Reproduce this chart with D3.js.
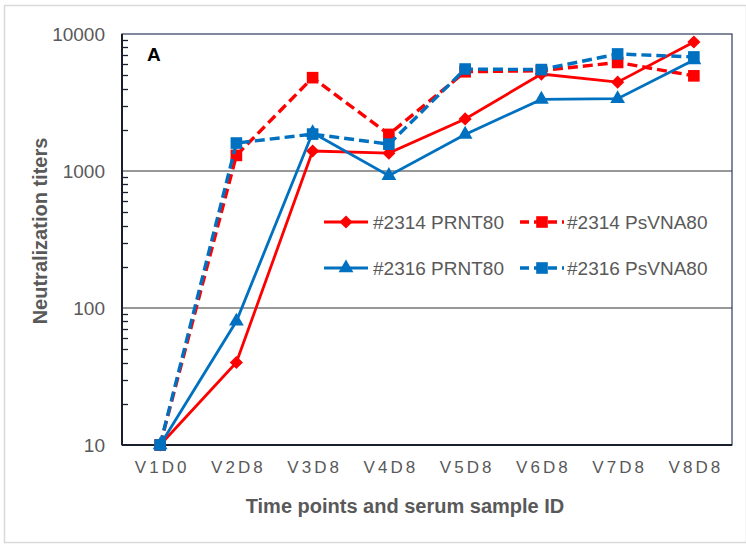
<!DOCTYPE html>
<html>
<head>
<meta charset="utf-8">
<script src="https://cdn.jsdelivr.net/npm/d3@7"></script>
<style>
  body { margin: 0; background: #fff; }
  text { font-family: "Liberation Sans", Arial, sans-serif; }
</style>
</head>
<body>
<svg id="chart" width="746" height="544"></svg>
<script>
"use strict";

// sample time points
const categories = ["V1D0", "V2D8", "V3D8", "V4D8", "V5D8", "V6D8", "V7D8", "V8D8"];

// titers
const prnt2314 = [10, 40, 1400, 1350, 2400, 5100, 4450, 8750];
const psvna2314 = [10, 1300, 4800, 1850, 5300, 5400, 6200, 4950];
const prnt2316 = [10, 80, 1900, 925, 1850, 3330, 3370, 6450];
const psvna2316 = [10, 1600, 1860, 1570, 5550, 5500, 7150, 6800];

const yTicks = [10, 100, 1000, 10000];
const seriesNames = ["#2314 PRNT80", "#2314 PsVNA80", "#2316 PRNT80", "#2316 PsVNA80"];

const RED = "#ff0000",
      BLUE = "#0070c0",
      TEXT = "#595959";

const series = [
    {name: seriesNames[0], values: prnt2314, color: RED, dash: null, marker: d3.symbolDiamond2, size: 110},
    {name: seriesNames[1], values: psvna2314, color: RED, dash: "10,5", marker: d3.symbolSquare, size: 135},
    {name: seriesNames[2], values: prnt2316, color: BLUE, dash: null, marker: d3.symbolTriangle, size: 95},
    {name: seriesNames[3], values: psvna2316, color: BLUE, dash: "10,5", marker: d3.symbolSquare, size: 135}
];

const svg = d3.select("#chart");
const plot = {left: 122, top: 34, right: 732, bottom: 445};

// outer frame
svg.append("rect")
    .attr("x", 4.5).attr("y", 5.5)
    .attr("width", 742).attr("height", 537)
    .attr("fill", "#fff")
    .attr("stroke", "#d9d9d9")
    .attr("stroke-width", 1.5);

const x = d3.scalePoint()
    .domain(categories)
    .range([plot.left, plot.right])
    .padding(0.5);

const y = d3.scaleLog()
    .domain([10, 10000])
    .range([plot.bottom, plot.top]);

// gridlines at the inner decades
svg.append("g")
    .selectAll("line")
    .data(yTicks.slice(1, -1))
    .join("line")
    .attr("x1", plot.left).attr("x2", plot.right)
    .attr("y1", d => y(d)).attr("y2", d => y(d))
    .attr("stroke", "#333")
    .attr("stroke-width", 1.2);

// plot border
svg.append("rect")
    .attr("x", plot.left).attr("y", plot.top)
    .attr("width", plot.right - plot.left)
    .attr("height", plot.bottom - plot.top)
    .attr("fill", "none")
    .attr("stroke", "#2f3b5c")
    .attr("stroke-width", 1.2);

// left axis with minor ticks pointing inward
const minorTicks = y.ticks().filter(d => yTicks.indexOf(d) < 0);
svg.append("g")
    .selectAll("line")
    .data(minorTicks)
    .join("line")
    .attr("x1", plot.left).attr("x2", plot.left + 6)
    .attr("y1", d => Math.round(y(d)) + 0.5).attr("y2", d => Math.round(y(d)) + 0.5)
    .attr("stroke", "#1a1f2e")
    .attr("stroke-width", 1.3);

svg.append("line")
    .attr("x1", plot.left).attr("x2", plot.left)
    .attr("y1", plot.top).attr("y2", plot.bottom)
    .attr("stroke", "#1a1f2e")
    .attr("stroke-width", 2);
svg.append("line")
    .attr("x1", plot.left).attr("x2", plot.right)
    .attr("y1", plot.bottom).attr("y2", plot.bottom)
    .attr("stroke", "#1a1f2e")
    .attr("stroke-width", 2);

const yAxis = d3.axisLeft(y)
    .tickValues(yTicks)
    .tickFormat(d3.format("d"))
    .tickSize(0)
    .tickPadding(17);
svg.append("g")
    .attr("transform", `translate(${plot.left},0)`)
    .call(yAxis)
    .call(g => g.select(".domain").remove())
    .selectAll("text")
    .attr("font-size", 19)
    .attr("font-family", "Liberation Sans, Arial, sans-serif")
    .attr("fill", TEXT);

const xAxis = d3.axisBottom(x)
    .tickSize(0)
    .tickPadding(16);
svg.append("g")
    .attr("transform", `translate(0,${plot.bottom})`)
    .call(xAxis)
    .call(g => g.select(".domain").remove())
    .selectAll("text")
    .attr("font-size", 17)
    .attr("letter-spacing", 3)
    .attr("dx", 1.5)
    .attr("font-family", "Liberation Sans, Arial, sans-serif")
    .attr("fill", TEXT);

// axis titles
svg.append("text")
    .attr("transform", "translate(42,231) rotate(-90)")
    .attr("text-anchor", "middle")
    .attr("dominant-baseline", "middle")
    .attr("font-size", 20)
    .attr("font-weight", "bold")
    .attr("fill", TEXT)
    .text("Neutralization titers");

svg.append("text")
    .attr("x", 405).attr("y", 513)
    .attr("text-anchor", "middle")
    .attr("font-size", 20)
    .attr("font-weight", "bold")
    .attr("fill", TEXT)
    .text("Time points and serum sample ID");

svg.append("text")
    .attr("x", 147).attr("y", 61)
    .attr("font-size", 19)
    .attr("font-weight", "bold")
    .attr("fill", "#000")
    .text("A");

// series lines and markers
const line = d3.line()
    .x((d, i) => x(categories[i]))
    .y(d => y(d));

const groups = svg.append("g")
    .selectAll("g")
    .data(series)
    .join("g");

groups.append("path")
    .attr("d", d => line(d.values))
    .attr("fill", "none")
    .attr("stroke", d => d.color)
    .attr("stroke-width", d => d.dash ? 3.4 : 2.8)
    .attr("stroke-dasharray", d => d.dash);

groups.each(function(s) {
    d3.select(this).selectAll("path.marker")
        .data(s.values)
        .join("path")
        .attr("class", "marker")
        .attr("transform", (d, i) => `translate(${x(categories[i])},${y(d)})`)
        .attr("d", d3.symbol().type(s.marker).size(s.size))
        .attr("fill", s.color);
});

// legend
const legendPos = [[324, 222], [520, 222], [324, 268], [520, 268]];
const legend = svg.append("g")
    .selectAll("g")
    .data(series)
    .join("g")
    .attr("transform", (d, i) => `translate(${legendPos[i][0]},${legendPos[i][1]})`);

legend.append("line")
    .attr("x1", 0).attr("x2", 44)
    .attr("stroke", d => d.color)
    .attr("stroke-width", d => d.dash ? 3.4 : 2.8)
    .attr("stroke-dasharray", d => d.dash ? "9,5" : null);

legend.append("path")
    .attr("transform", "translate(22,0)")
    .attr("d", d => d3.symbol().type(d.marker).size(d.size)())
    .attr("fill", d => d.color);

legend.append("text")
    .attr("x", d => d.dash ? 47 : 49)
    .attr("dy", "0.35em")
    .attr("font-size", 19)
    .attr("fill", TEXT)
    .text(d => d.name);
</script>
</body>
</html>
